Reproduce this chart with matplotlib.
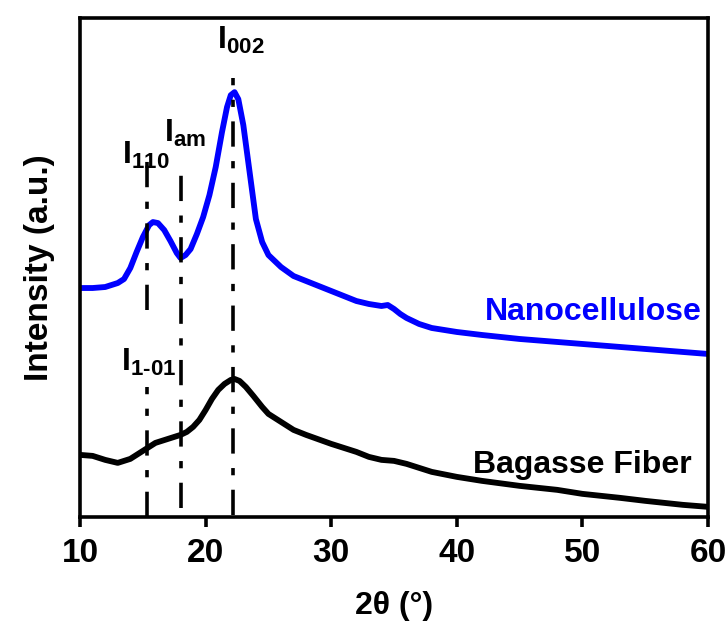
import numpy as np
import matplotlib
matplotlib.use('Agg')
import matplotlib.pyplot as plt

# XRD patterns (intensity in arbitrary units)
nano_2theta = [10, 11, 12, 13, 13.5, 14, 14.5, 15, 15.5, 15.8, 16.2, 16.7, 17.2, 17.7, 18.0,
               18.4, 18.8, 19.3, 19.8, 20.3, 20.8, 21.3, 21.7, 22.0, 22.3, 22.6, 23.0, 23.5,
               24.0, 24.5, 25, 26, 27, 28, 29, 30, 31, 32, 33, 34, 34.5, 35, 35.5, 36, 37,
               38, 40, 42, 45, 48, 50, 53, 55, 58, 60]
nano_int = [229, 229, 230, 234, 238, 249, 265, 280, 292, 295, 294, 287, 276, 264, 259,
            262, 268, 283, 300, 322, 350, 385, 410, 422, 425, 418, 392, 345,
            298, 275, 262, 250, 241, 236, 231, 226, 221, 216, 213, 211, 212, 208, 203, 199, 193,
            189, 185, 182, 178, 175, 173, 170, 168, 165, 163]

bag_2theta = [10, 11, 12, 13, 14, 15, 16, 17, 18, 18.5, 19, 19.5, 20, 20.5, 21, 21.5,
              22.0, 22.3, 22.7, 23.2, 23.8, 24.5, 25, 26, 27, 28, 30, 32, 33, 34, 35, 36,
              37, 38, 40, 42, 45, 48, 50, 53, 55, 58, 60]
bag_int = [62, 61, 57, 54, 58, 66, 74, 78, 82, 85, 90, 97, 107, 118, 127, 133,
           137, 138, 136, 130, 121, 110, 103, 95, 87, 82, 73, 65, 60, 57, 56, 53,
           49, 45, 40, 36, 31, 27, 23, 19, 16, 12, 10]

# reference peak positions and the vertical extent of their markers
marker_x = [15.3, 15.3, 18.0, 22.2]
marker_lo = [207, 0, 9, 2]
marker_hi = [367, 130, 342, 439]
peak_labels = ['I$_{110}$', 'I$_{1\u201001}$', 'I$_{am}$', 'I$_{002}$']
label_x = [15.2, 15.5, 18.4, 22.8]
label_y = [346, 139, 368, 461]

plt.rcParams['font.family'] = ['Liberation Sans', 'DejaVu Sans']
plt.rcParams['font.weight'] = 'bold'
plt.rcParams['mathtext.fontset'] = 'custom'
plt.rcParams['mathtext.rm'] = 'Liberation Sans:bold'
plt.rcParams['mathtext.it'] = 'Liberation Sans:bold'
plt.rcParams['mathtext.bf'] = 'Liberation Sans:bold'

fig = plt.figure(figsize=(7.28, 6.28), dpi=100)
ax = fig.add_axes([0.110, 0.177, 0.8625, 0.794])

ax.plot(nano_2theta, nano_int, color='#0000ff', lw=4.2, solid_joinstyle='round')
ax.plot(bag_2theta, bag_int, color='black', lw=4.2, solid_joinstyle='round')

for xv, lo, hi in zip(marker_x, marker_lo, marker_hi):
    ax.plot([xv, xv], [lo, hi], color='black', lw=2.6, dashes=(7, 4, 2, 4))

for t, xv, yv in zip(peak_labels, label_x, label_y):
    ax.text(xv, yv, t, fontsize=23, ha='center', va='bottom')

ax.text(59.5, 205, 'Nanocellulose', color='#0000ff', fontsize=23, fontweight='bold',
        ha='right', va='center')
ax.text(58.7, 52, 'Bagasse Fiber', color='black', fontsize=23, fontweight='bold',
        ha='right', va='center')

ax.set_xlim(10, 60)
ax.set_ylim(0, 499)
ax.set_xticks([10, 20, 30, 40, 50, 60])
ax.set_yticks([])
for s in ax.spines.values():
    s.set_linewidth(2.6)
ax.tick_params(axis='x', direction='out', length=7, width=2.6, pad=8)
for lab in ax.get_xticklabels():
    lab.set_fontsize(24)
    lab.set_fontweight('bold')

ax.set_xlabel('2\u03b8 (\u00b0)', fontsize=23, fontweight='bold', labelpad=16)
ax.set_ylabel('Intensity (a.u.)', fontsize=24, fontweight='bold', labelpad=18)

fig.savefig('out.png', dpi=100)
